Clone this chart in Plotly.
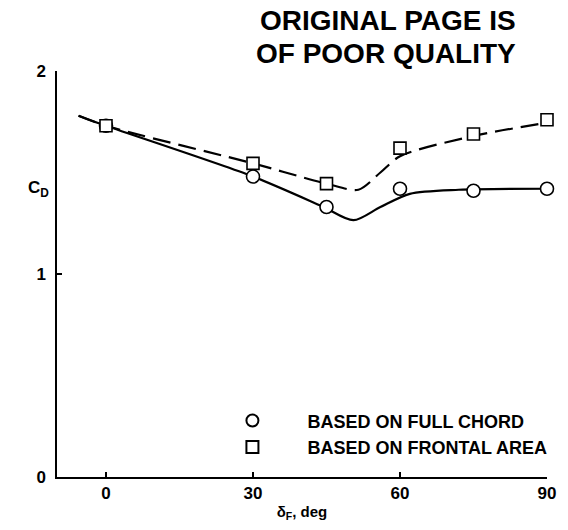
import plotly.graph_objects as go

# Data
deflection = [0, 30, 45, 60, 75, 90]
cd_full_chord = [1.73, 1.48, 1.33, 1.42, 1.41, 1.42]
cd_frontal_area = [1.73, 1.545, 1.445, 1.62, 1.69, 1.76]

# Faired curves as drawn on the reference
fair_full_x = [-5.6, 0, 30, 44, 50.5, 56, 62, 72, 90]
fair_full_y = [1.78, 1.73, 1.48, 1.335, 1.265, 1.33, 1.395, 1.415, 1.42]
fair_front_x = [-5.6, 0, 30, 45, 51.5, 56, 60, 75, 90]
fair_front_y = [1.78, 1.73, 1.545, 1.445, 1.415, 1.50, 1.58, 1.68, 1.745]

x_ticks = [0, 30, 60, 90]
y_ticks = [0, 1, 2]

FONT = "Liberation Sans, Arial, sans-serif"
NB = "\u00a0" * 7

fig = go.Figure()

fig.add_trace(go.Scatter(
    x=fair_full_x, y=fair_full_y, mode="lines",
    line=dict(color="black", width=2.2, shape="spline", smoothing=0.8),
    showlegend=False, hoverinfo="skip"))
fig.add_trace(go.Scatter(
    x=fair_front_x, y=fair_front_y, mode="lines",
    line=dict(color="black", width=2.2, dash="18px,8px", shape="spline", smoothing=0.8),
    showlegend=False, hoverinfo="skip"))

fig.add_trace(go.Scatter(
    x=deflection, y=cd_full_chord, mode="markers",
    name=NB + "BASED ON FULL CHORD",
    marker=dict(symbol="circle", size=13, color="white",
                line=dict(color="black", width=1.6)),
    cliponaxis=False))
fig.add_trace(go.Scatter(
    x=deflection, y=cd_frontal_area, mode="markers",
    name=NB + "BASED ON FRONTAL AREA",
    marker=dict(symbol="square", size=12, color="white",
                line=dict(color="black", width=1.6)),
    cliponaxis=False))

fig.update_layout(
    width=568, height=530,
    margin=dict(l=57, r=13, t=71, b=52, pad=0),
    paper_bgcolor="white", plot_bgcolor="white",
    font=dict(family=FONT, color="black", size=17),
    showlegend=True,
    legend=dict(x=0.358, y=0.184, xanchor="left", yanchor="top",
                bgcolor="rgba(0,0,0,0)",
                font=dict(family=FONT, size=18, weight="bold"),
                itemsizing="constant"),
    xaxis=dict(range=[-10, 90], tickvals=x_ticks, ticktext=[str(v) for v in x_ticks],
               showline=True, linecolor="black", linewidth=1.5,
               ticks="inside", ticklen=5, tickcolor="black", tickwidth=1.5,
               showgrid=False, zeroline=False,
               tickfont=dict(family=FONT, size=17, weight="bold"),
               title=dict(text="\u03b4<sub>F</sub>, deg", standoff=4,
                          font=dict(family=FONT, size=15, weight="bold"))),
    yaxis=dict(range=[0, 2], tickvals=y_ticks, ticktext=[str(v) for v in y_ticks],
               showline=True, linecolor="black", linewidth=1.5,
               ticks="inside", ticklen=5, tickcolor="black", tickwidth=1.5,
               showgrid=False, zeroline=False, ticklabelstandoff=6,
               tickfont=dict(family=FONT, size=17, weight="bold")),
    annotations=[
        dict(text="C<sub>D</sub>", xref="paper", yref="y", x=-0.064, y=1.42,
             showarrow=False, font=dict(family=FONT, size=17, weight="bold")),
        dict(text="ORIGINAL PAGE IS", xref="paper", yref="paper", x=0.94, y=1.125,
             xanchor="right", yanchor="middle", showarrow=False,
             font=dict(family=FONT, size=28, weight="bold")),
        dict(text="OF POOR QUALITY", xref="paper", yref="paper", x=0.94, y=1.044,
             xanchor="right", yanchor="middle", showarrow=False,
             font=dict(family=FONT, size=28, weight="bold")),
    ],
)

fig.write_html(
    "out.html",
    config={"displayModeBar": False},
    post_script="document.body.style.margin='0';document.body.style.overflow='hidden';",
)
